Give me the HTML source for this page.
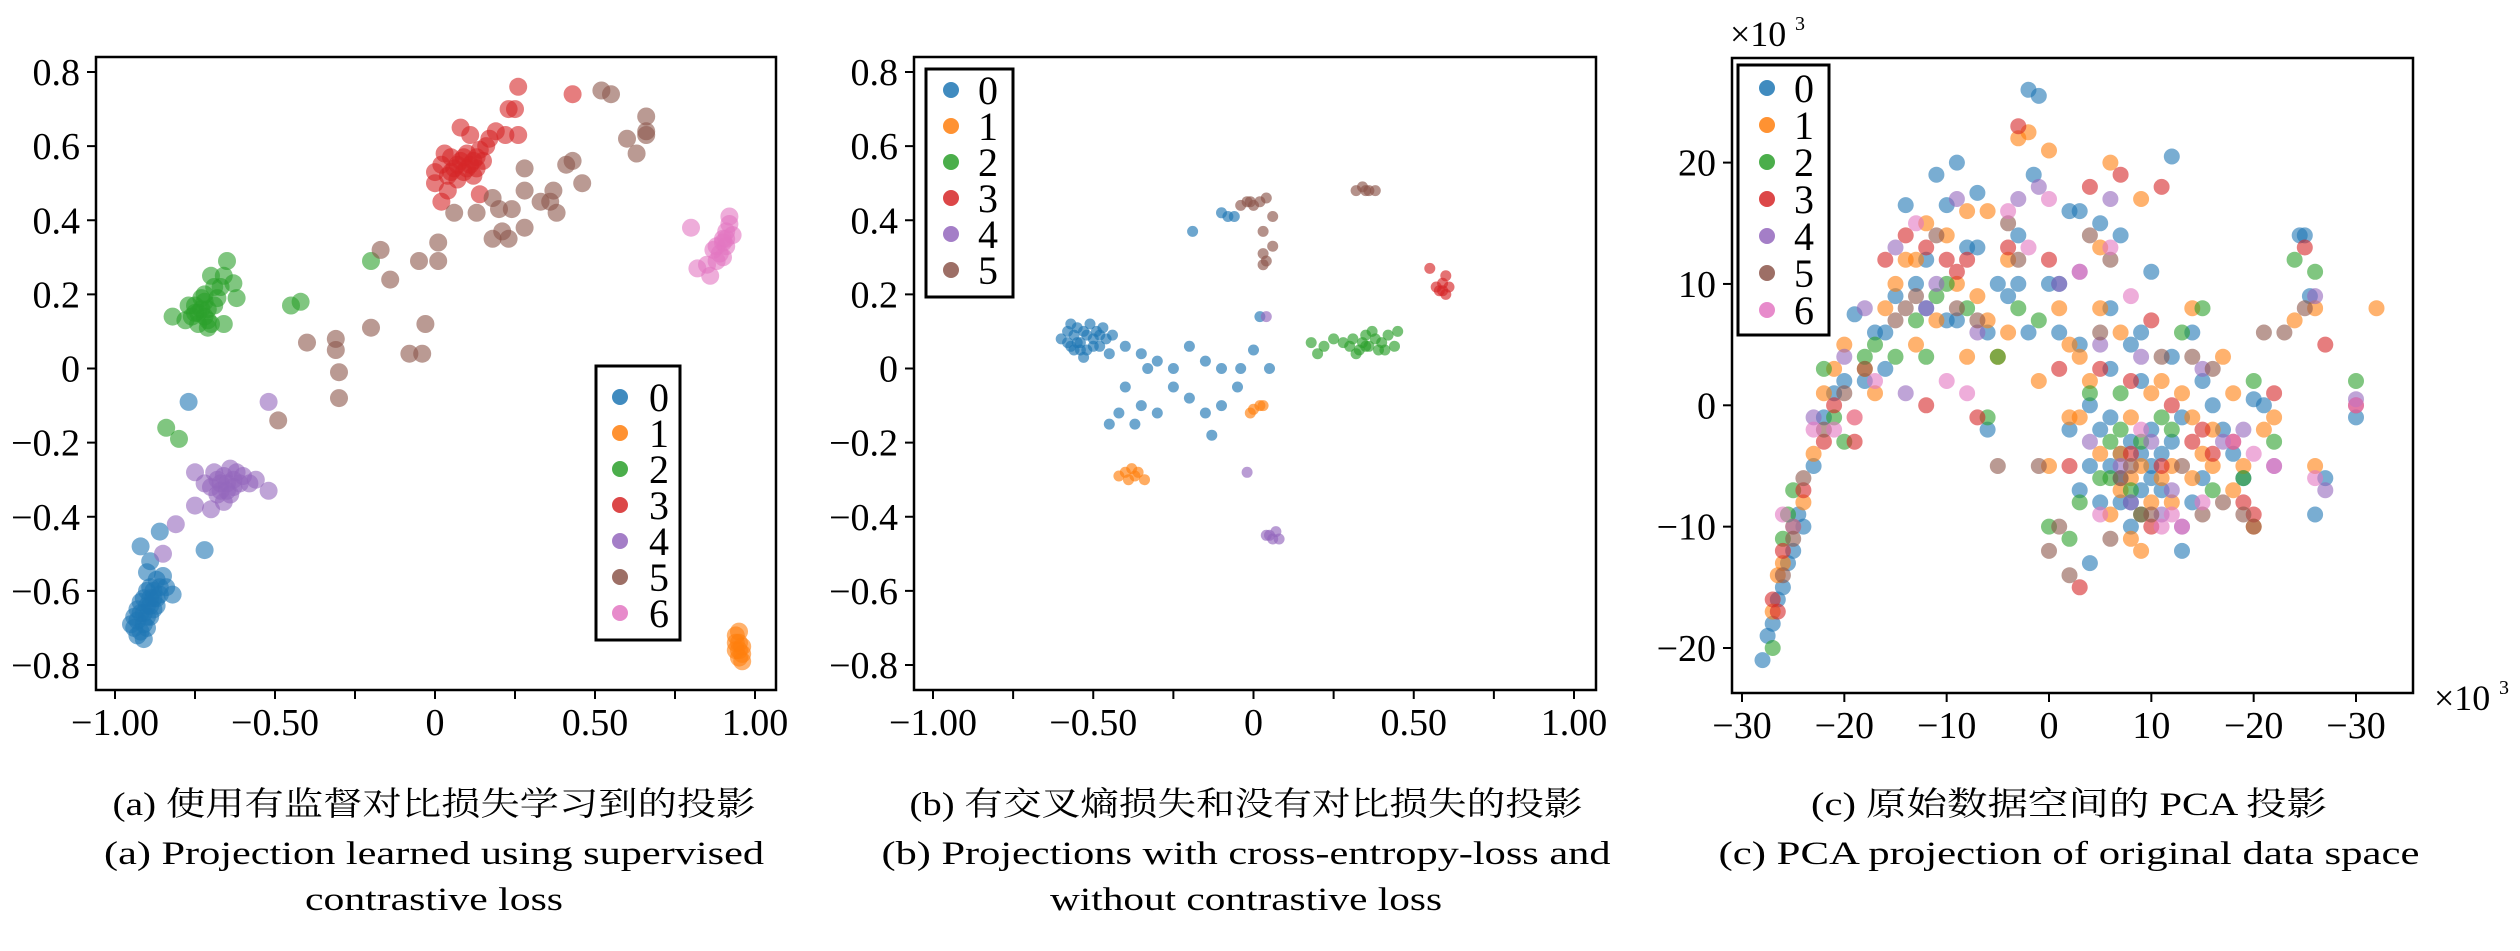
<!DOCTYPE html>
<html><head><meta charset="utf-8">
<style>
html,body{margin:0;padding:0;background:#fff;}
svg{display:block;}
text{font-family:"Liberation Serif","Noto Serif CJK SC",serif;fill:#000;}
.cap{font-family:"Liberation Serif","Noto Serif CJK SC","Noto Sans CJK SC",serif;}
</style></head>
<body>
<svg id="fig" width="2520" height="951" viewBox="0 0 2520 951" xmlns="http://www.w3.org/2000/svg">
<g id="pa"></g>
<g id="pb"></g>
<g id="pc"></g>
</svg>
<script>
const COLORS = ["#1f77b4","#ff7f0e","#2ca02c","#d62728","#9467bd","#8c564b","#e377c2"];
const classLabels = ["0","1","2","3","4","5","6"];
const xTicksAB = [-1,-0.75,-0.5,-0.25,0,0.25,0.5,0.75,1];
const xTickLabelsAB = ["−1.00","","−0.50","","0","","0.50","","1.00"];
const yTicksAB = [0.8,0.6,0.4,0.2,0,-0.2,-0.4,-0.6,-0.8];
const yTickLabelsAB = ["0.8","0.6","0.4","0.2","0","−0.2","−0.4","−0.6","−0.8"];
const xTicksC = [-30,-20,-10,0,10,20,30];
const xTickLabelsC = ["−30","−20","−10","0","10","−20","−30"];
const yTicksC = [20,10,0,-10,-20];
const yTickLabelsC = ["20","10","0","−10","−20"];

const a0 = [[-0.94,-0.70],[-0.93,-0.68],[-0.92,-0.71],[-0.91,-0.69],[-0.93,-0.65],[-0.91,-0.66],[-0.90,-0.64],[-0.89,-0.62],[-0.88,-0.60],[-0.87,-0.62],[-0.89,-0.67],[-0.92,-0.63],[-0.90,-0.60],[-0.86,-0.59],[-0.88,-0.65],[-0.90,-0.70],[-0.95,-0.69],[-0.84,-0.59],[-0.82,-0.61],[-0.91,-0.73],[-0.87,-0.57],[-0.89,-0.52],[-0.92,-0.48],[-0.86,-0.44],[-0.77,-0.09],[-0.72,-0.49],[-0.90,-0.55],[-0.85,-0.56],[-0.93,-0.72],[-0.92,-0.66],[-0.90,-0.67],[-0.89,-0.64],[-0.88,-0.62],[-0.91,-0.62],[-0.94,-0.67],[-0.87,-0.64],[-0.89,-0.59],[-0.86,-0.61]];
const a1 = [[0.94,-0.72],[0.95,-0.74],[0.94,-0.76],[0.96,-0.75],[0.95,-0.78],[0.96,-0.79],[0.95,-0.71],[0.96,-0.77],[0.95,-0.76],[0.94,-0.74]];
const a2 = [[-0.76,0.14],[-0.75,0.17],[-0.74,0.12],[-0.73,0.19],[-0.72,0.14],[-0.71,0.16],[-0.70,0.12],[-0.74,0.15],[-0.77,0.17],[-0.72,0.2],[-0.69,0.22],[-0.67,0.22],[-0.71,0.11],[-0.78,0.13],[-0.68,0.19],[-0.66,0.25],[-0.63,0.23],[-0.62,0.19],[-0.65,0.29],[-0.7,0.25],[-0.82,0.14],[-0.66,0.12],[-0.45,0.17],[-0.42,0.18],[-0.2,0.29],[-0.84,-0.16],[-0.80,-0.19],[-0.73,0.16],[-0.71,0.13],[-0.75,0.15],[-0.69,0.17],[-0.72,0.18]];
const a3 = [[0.0,0.53],[0.02,0.55],[0.04,0.52],[0.05,0.57],[0.06,0.54],[0.08,0.56],[0.09,0.53],[0.1,0.58],[0.11,0.55],[0.12,0.52],[0.13,0.57],[0.14,0.59],[0.15,0.56],[0.16,0.6],[0.03,0.58],[0.07,0.51],[0.17,0.62],[0.19,0.64],[0.02,0.45],[0.04,0.48],[0.14,0.47],[0.26,0.76],[0.23,0.7],[0.25,0.7],[0.43,0.74],[0.22,0.63],[0.26,0.63],[0.08,0.65],[0.11,0.63],[0.0,0.5],[0.07,0.55],[0.09,0.57],[0.12,0.56],[0.05,0.53],[0.1,0.54],[0.13,0.54]];
const a4 = [[-0.70,-0.32],[-0.68,-0.30],[-0.67,-0.33],[-0.66,-0.29],[-0.65,-0.31],[-0.64,-0.34],[-0.63,-0.30],[-0.62,-0.28],[-0.61,-0.31],[-0.69,-0.28],[-0.72,-0.31],[-0.66,-0.36],[-0.60,-0.29],[-0.58,-0.31],[-0.64,-0.27],[-0.52,-0.09],[-0.52,-0.33],[-0.75,-0.28],[-0.75,-0.37],[-0.81,-0.42],[-0.85,-0.5],[-0.70,-0.38],[-0.56,-0.3],[-0.67,-0.31],[-0.65,-0.33],[-0.68,-0.34],[-0.63,-0.32]];
const a5 = [[-0.4,0.07],[-0.31,0.08],[-0.31,0.05],[-0.3,-0.01],[-0.3,-0.08],[-0.2,0.11],[-0.17,0.32],[-0.14,0.24],[-0.08,0.04],[-0.04,0.04],[-0.05,0.29],[0.01,0.29],[-0.03,0.12],[0.01,0.34],[-0.49,-0.14],[0.06,0.42],[0.13,0.42],[0.18,0.35],[0.21,0.37],[0.23,0.35],[0.18,0.46],[0.2,0.43],[0.24,0.43],[0.28,0.38],[0.28,0.48],[0.28,0.54],[0.33,0.45],[0.36,0.45],[0.37,0.48],[0.38,0.42],[0.41,0.55],[0.43,0.56],[0.46,0.5],[0.52,0.75],[0.55,0.74],[0.6,0.62],[0.63,0.58],[0.66,0.64],[0.66,0.68],[0.66,0.63]];
const a6 = [[0.88,0.33],[0.9,0.35],[0.91,0.37],[0.92,0.39],[0.89,0.31],[0.91,0.33],[0.93,0.36],[0.87,0.32],[0.9,0.30],[0.92,0.41],[0.85,0.28],[0.82,0.27],[0.8,0.38],[0.86,0.25],[0.88,0.29],[0.9,0.34],[0.91,0.35]];

const b0 = [[-0.6,0.08],[-0.58,0.1],[-0.57,0.06],[-0.56,0.09],[-0.55,0.11],[-0.54,0.07],[-0.53,0.1],[-0.52,0.05],[-0.51,0.12],[-0.5,0.08],[-0.49,0.1],[-0.48,0.06],[-0.47,0.11],[-0.46,0.08],[-0.45,0.04],[-0.53,0.03],[-0.57,0.12],[-0.44,0.09],[-0.55,0.07],[-0.52,0.09],[-0.5,0.06],[-0.48,0.09],[-0.54,0.05],[-0.56,0.05],[-0.58,0.07],[-0.4,0.06],[-0.35,0.04],[-0.3,0.02],[-0.25,0.0],[-0.4,-0.05],[-0.35,-0.1],[-0.45,-0.15],[-0.42,-0.12],[-0.3,-0.12],[-0.2,-0.08],[-0.15,-0.12],[-0.1,-0.1],[-0.05,-0.05],[-0.2,0.06],[-0.15,0.02],[-0.1,0.0],[0.0,0.05],[0.02,0.14],[-0.19,0.37],[-0.1,0.42],[-0.08,0.41],[-0.06,0.41],[-0.33,0.0],[-0.25,-0.05],[-0.37,-0.15],[-0.13,-0.18],[-0.04,0.0],[0.05,0.0]];
const b1 = [[-0.42,-0.29],[-0.4,-0.28],[-0.39,-0.3],[-0.37,-0.29],[-0.36,-0.28],[-0.34,-0.3],[-0.38,-0.27],[0.0,-0.11],[0.02,-0.1],[0.03,-0.1],[-0.01,-0.12]];
const b2 = [[0.28,0.07],[0.3,0.06],[0.31,0.08],[0.33,0.05],[0.34,0.07],[0.35,0.09],[0.36,0.06],[0.38,0.08],[0.39,0.05],[0.4,0.07],[0.42,0.09],[0.44,0.06],[0.37,0.1],[0.32,0.04],[0.18,0.07],[0.22,0.06],[0.25,0.08],[0.2,0.04],[0.45,0.1],[0.35,0.06],[0.41,0.05]];
const b3 = [[0.58,0.21],[0.59,0.23],[0.6,0.2],[0.61,0.22],[0.6,0.25],[0.57,0.22],[0.55,0.27],[0.59,0.21]];
const b4 = [[0.05,-0.45],[0.06,-0.46],[0.07,-0.44],[0.04,-0.45],[0.08,-0.46],[0.04,0.14],[-0.02,-0.28]];
const b5 = [[-0.04,0.44],[-0.02,0.45],[0.0,0.44],[0.02,0.45],[0.04,0.46],[0.32,0.48],[0.34,0.49],[0.36,0.48],[0.38,0.48],[0.03,0.31],[0.04,0.29],[0.03,0.28],[0.06,0.41],[0.03,0.37],[0.06,0.33],[-0.01,0.45],[0.35,0.48]];

const c0 = [[-28,-21],[-27.5,-19],[-26,-15],[-25,-12],[-24.5,-9],[-23,-5],[-22,-1],[-20,2],[-19,7.5],[-17,6],[-15,9],[-14,16.5],[-12,12],[-11,19],[-10,16.5],[-9,20],[-8,13],[-7,17.5],[-6,6],[-4,9],[-3,14],[-2,26],[-1,25.5],[-1.5,19],[0,10],[1,10],[2,16],[3,-7],[4,0],[5,-2],[6,-5],[7,-8],[8,-3],[9,2],[10,-6],[10,11],[11,-4],[12,20.5],[13,-12],[14,6],[16,0],[18,-4],[20,0.5],[21,0],[25,14],[25.5,9],[26,-9],[27,-6],[30,-1],[5,15],[7,14],[9,6],[-13,10],[-18,2],[-6,-2],[3,5],[6,3],[8,-10],[4,-13],[10,-5],[12,-3],[15,-6],[-16,3],[-9,7],[5,-8],[7,-4],[9,-7],[-27,-18],[-26.5,-16],[-25.5,-13],[-24,-10],[-21,1],[-16,6],[-12,8],[-10,7],[-5,10],[-2,6],[1,6],[4,-5],[6,-1],[7,-6],[8,-8],[9,-4],[10,-2],[11,-7],[13,-1],[15,2],[17,-2],[19,-6],[2,-2],[6,8],[8,5],[12,4],[14,-8],[-7,13],[-3,10],[3,16],[24.5,14]];
const c1 = [[-27,-17],[-26,-13],[-24,-8],[-22,1],[-21,3],[-19,-1],[-16,8],[-14,12],[-12,15],[-10,14],[-8,16],[-6,16],[-4,12],[-3,22],[-2,22.5],[0,21],[1,8],[2,5],[3,-1],[5,13],[6,20],[7,-4],[8,-6],[9,17],[10,-8],[11,2],[12,-8],[14,8],[15,-4],[16,-2],[17,4],[19,-5],[20,-10],[22,-1],[24,7],[26,-5],[26,8],[32,8],[-20,5],[-11,7],[-5,4],[0,-5],[6,-9],[9,-12],[4,2],[13,1],[18,1],[-13,5],[-7,9],[8,-11],[11,-6],[14,-1],[-26.5,-14],[-25,-10],[-23,-4],[-18,3],[-15,10],[-13,12],[-9,10],[-6,7],[-4,6],[-1,2],[2,-1],[3,4],[5,-4],[7,-7],[8,-1],[9,-5],[10,1],[12,-5],[14,-6],[16,-5],[18,-7],[21,-2],[5,8],[7,6],[-8,4],[-17,1]];
const c2 = [[-27,-20],[-26,-11],[-25,-7],[-22,3],[-20,-3],[-17,5],[-15,4],[-13,7],[-10,10],[-8,8],[-6,-1],[-5,4],[-3,8],[-1,7],[0,-10],[2,-11],[4,1],[5,-6],[6,-3],[7,1],[8,-7],[9,-3],[11,-1],[13,6],[15,8],[16,-7],[19,-6],[20,2],[22,-3],[24,12],[26,11],[30,2],[-12,4],[3,-8],[-25.5,-9],[-21,-1],[-18,4],[-11,9],[6,-6],[7,-2],[9,-9],[12,-2]];
const c3 = [[-27,-16],[-26,-12],[-24,-7],[-21,0],[-19,-3],[-16,12],[-14,14],[-12,13],[-10,12],[-8,12],[-4,13],[-3,23],[0,12],[1,3],[2,-5],[4,18],[7,19],[8,2],[10,7],[11,18],[12,0],[14,-3],[16,-4],[18,-3],[19,-8],[20,-9],[22,1],[25,13],[27,5],[30,0],[-12,0],[-7,-1],[3,-15],[10,-10],[-26.5,-17],[-22,-3],[-9,11],[5,3],[8,-4],[11,-5],[15,-2]];
const c4 = [[-25,-10],[-23,-1],[-18,8],[-15,13],[-12,8],[-9,17],[-7,6],[-3,17],[-1,18],[1,10],[3,11],[4,-3],[6,17],[7,-5],[9,4],[11,-9],[13,-10],[15,3],[17,-3],[19,-2],[22,-5],[26,9],[27,-7],[30,0.5],[-14,1],[8,-8],[5,5],[-20,4],[-11,10],[10,-3],[12,-7]];
const c5 = [[-26,-14],[-24,-6],[-22,-2],[-20,1],[-18,3],[-15,7],[-13,9],[-11,14],[-9,8],[-7,7],[-4,15],[-3,12],[-1,-5],[0,-12],[1,-10],[2,-14],[4,14],[5,6],[6,12],[7,-6],[9,-9],[11,4],[13,-5],[15,-9],[16,3],[17,-8],[19,-9],[20,-10],[21,6],[23,6],[25,8],[6,-11],[-5,-5],[-25,-11],[-14,8],[8,-5],[10,-9],[14,4]];
const c6 = [[-26,-9],[-23,-2],[-19,-1],[-17,2],[-13,15],[-10,2],[-8,1],[-4,16],[-2,13],[0,17],[3,11],[6,13],[8,9],[11,-10],[13,-10],[15,-8],[18,-3],[20,-4],[22,-5],[26,-6],[30,0],[9,-2],[-21,-2],[5,-9],[12,-9]];

const NS = "http://www.w3.org/2000/svg";
function mk(parent, tag, attrs, txt){
  const e = document.createElementNS(NS, tag);
  for (const k in attrs) e.setAttribute(k, attrs[k]);
  if (txt !== undefined) e.textContent = txt;
  parent.appendChild(e);
  return e;
}
function lin(d0,d1,p0,p1){ return v => p0 + (v-d0)*(p1-p0)/(d1-d0); }

function panel(g, cfg){
  const sx = lin(cfg.xd[0], cfg.xd[1], cfg.xp[0], cfg.xp[1]);
  const sy = lin(cfg.yd[0], cfg.yd[1], cfg.yp[0], cfg.yp[1]);
  const B = cfg.box;
  const pts = mk(g,'g',{});
  
  
  cfg.series.forEach((arr, ci) => {
    arr.forEach(p => {
      const c = mk(pts,'circle',{cx:sx(p[0]).toFixed(1), cy:sy(p[1]).toFixed(1), r:cfg.r, fill:COLORS[ci], 'fill-opacity':cfg.op});
      
      
    });
  });
  const fr = mk(g,'rect',{x:B[0], y:B[1], width:B[2]-B[0], height:B[3]-B[1], fill:'none', stroke:'#000', 'stroke-width':2.5});
  
  
  cfg.xt.forEach((v,i) => {
    const x = sx(v);
    mk(g,'line',{x1:x, x2:x, y1:B[3], y2:B[3]+9, stroke:'#000','stroke-width':2});
    if (cfg.xtl[i]) {
      const t = mk(g,'text',{x:x, y:B[3]+45, 'font-size':38, 'text-anchor':'middle'}, cfg.xtl[i]);
      
      
    }
  });
  cfg.yt.forEach((v,i) => {
    const y = sy(v);
    mk(g,'line',{x1:B[0]-9, x2:B[0], y1:y, y2:y, stroke:'#000','stroke-width':2});
    const t = mk(g,'text',{x:B[0]-16, y:y+13, 'font-size':38, 'text-anchor':'end'}, cfg.ytl[i]);
    
    
  });
  const L = cfg.leg;
  const lg = mk(g,'g',{});
  
  
  mk(lg,'rect',{x:L.x, y:L.y, width:L.w, height:L.h, fill:'#fff', stroke:'#000','stroke-width':3});
  for (let i=0;i<L.n;i++){
    const y = L.y0 + i*L.dy;
    const e = mk(lg,'g',{});
    
    
    mk(e,'circle',{cx:L.mx, cy:y, r:8, fill:COLORS[i], 'fill-opacity':0.85});
    mk(e,'text',{x:L.tx, y:y+14, 'font-size':40, 'text-anchor':'middle'}, classLabels[i]);
  }
  cfg.cap.forEach(c => {
    const t = mk(g,'text',{x:c[0], y:c[1], 'font-size':33, 'text-anchor':'middle', textLength:c[3], lengthAdjust:'spacingAndGlyphs', class:'cap'}, c[2]);
    
    
  });
}

panel(document.getElementById('pa'), {
  xd:[-1,1], xp:[115,755], yd:[0.8,-0.8], yp:[72,665], box:[96,57,776,690],
  xt:xTicksAB, xtl:xTickLabelsAB, yt:yTicksAB, ytl:yTickLabelsAB,
  series:[a0,a1,a2,a3,a4,a5,a6], r:9, op:0.6,
  leg:{x:596,y:366,w:84,h:274,n:7,y0:397,dy:36,mx:620,tx:659},
  cap:[[434,815,"(a) 使用有监督对比损失学习到的投影",643],[434,864,"(a) Projection learned using supervised",660],[434,910,"contrastive loss",258]]
});
panel(document.getElementById('pb'), {
  xd:[-1,1], xp:[933,1574], yd:[0.8,-0.8], yp:[72,665], box:[914,57,1596,690],
  xt:xTicksAB, xtl:xTickLabelsAB, yt:yTicksAB, ytl:yTickLabelsAB,
  series:[b0,b1,b2,b3,b4,b5], r:5.5, op:0.65,
  leg:{x:926,y:69,w:87,h:228,n:6,y0:90,dy:36,mx:951,tx:988},
  cap:[[1246,815,"(b) 有交叉熵损失和没有对比损失的投影",673],[1246,864,"(b) Projections with cross-entropy-loss and",729],[1246,910,"without contrastive loss",392]]
});
panel(document.getElementById('pc'), {
  xd:[-30,30], xp:[1742,2356], yd:[20,-20], yp:[162.6,648], box:[1732,58,2413,693],
  xt:xTicksC, xtl:xTickLabelsC, yt:yTicksC, ytl:yTickLabelsC,
  series:[c0,c1,c2,c3,c4,c5,c6], r:8, op:0.6,
  leg:{x:1738,y:65,w:91,h:270,n:7,y0:88,dy:37,mx:1767,tx:1804},
  cap:[[2069,815,"(c) 原始数据空间的 PCA 投影",516],[2069,864,"(c) PCA projection of original data space",701]]
});
const pc = document.getElementById('pc');
const m1 = mk(pc,'text',{x:1730, y:46, 'font-size':36}, "×10");


mk(pc,'text',{x:1795, y:30, 'font-size':20}, "3");
const m2 = mk(pc,'text',{x:2434, y:710, 'font-size':36}, "×10");


mk(pc,'text',{x:2499, y:694, 'font-size':20}, "3");
</script>
</body></html>
